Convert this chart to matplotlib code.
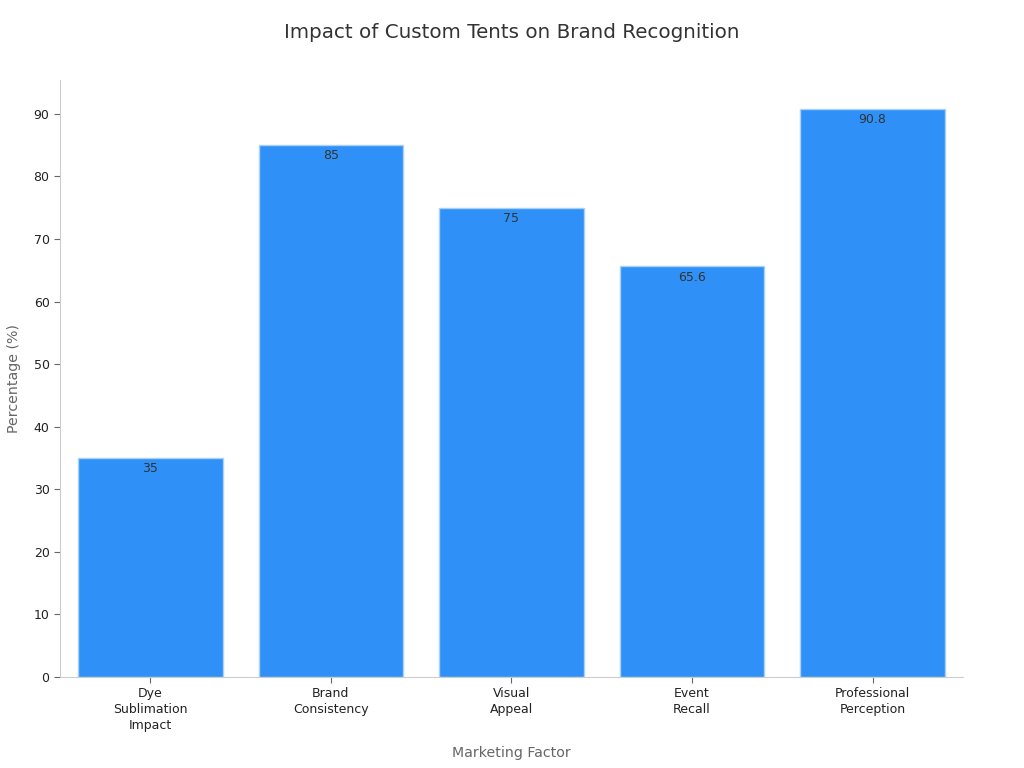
import matplotlib.pyplot as plt
import numpy as np

categories = ['Dye\nSublimation\nImpact', 'Brand\nConsistency', 'Visual\nAppeal', 'Event\nRecall', 'Professional\nPerception']
values = [35, 85, 75, 65.6, 90.8]

fig = plt.figure(figsize=(10.24, 7.68), dpi=100)
ax = fig.add_axes([0.0586, 0.1185, 0.8818, 0.7773])

x = np.arange(len(categories))
bars = ax.bar(x, values, width=0.8, color='#2f91f7', edgecolor='#a9d0f7', linewidth=1)

for xi, v in zip(x, values):
    ax.text(xi, v - 0.7, f'{v:g}', ha='center', va='top', fontsize=9, color='#333333')

ax.set_xlim(-0.5, 4.5)
ax.set_ylim(0, 95.4)
ax.set_yticks(np.arange(0, 91, 10))
ax.set_xticks(x)
ax.set_xticklabels(categories, fontsize=9, color='#222222', linespacing=1.3)
ax.tick_params(axis='y', labelsize=9, labelcolor='#222222', color='#666666', length=4)
ax.tick_params(axis='x', color='#666666', length=4)

for side in ['top', 'right']:
    ax.spines[side].set_visible(False)
for side in ['left', 'bottom']:
    ax.spines[side].set_color('#cccccc')

ax.set_xlabel('Marketing Factor', fontsize=10.2, color='#666666', labelpad=10)
ax.set_ylabel('Percentage (%)', fontsize=10.2, color='#666666', labelpad=9)
fig.suptitle('Impact of Custom Tents on Brand Recognition', fontsize=14.3, color='#333333', y=0.97)

fig.savefig('out.png', dpi=100)
